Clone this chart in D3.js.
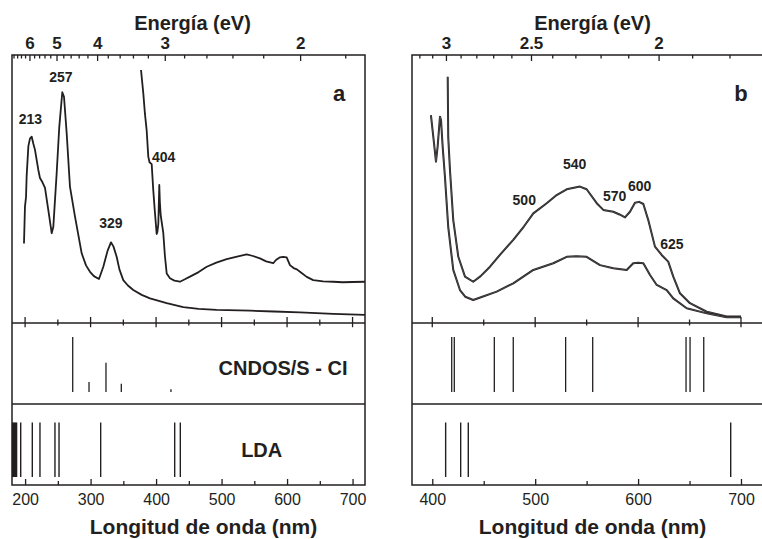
<!DOCTYPE html>
<html>
<head>
<meta charset="utf-8">
<script src="https://cdn.jsdelivr.net/npm/d3@7"></script>
<style>
  body { margin: 0; background: #fff; }
  text { font-family: "Liberation Sans", Arial, sans-serif; fill: #231f20; }
</style>
</head>
<body>
<svg id="chart" width="762" height="539"></svg>
<script>
// ---- data (wavelength nm, absorbance a.u.) ----
const specA_dilute = [[198.3,0.297],[199.8,0.434],[201.4,0.47],[202.4,0.55],[205.0,0.66],[207.5,0.689],[210.1,0.695],[212.5,0.67],[215.1,0.646],[220.2,0.571],[222.7,0.541],[226.5,0.525],[230.4,0.504],[235.4,0.422],[240.6,0.335],[243.1,0.359],[248.2,0.559],[252.2,0.732],[256.8,0.861],[259.4,0.844],[263.5,0.708],[268.5,0.509],[276.2,0.397],[286.4,0.260],[293,0.215],[299.1,0.191],[305,0.175],[312.8,0.164],[319.4,0.210],[326,0.27],[331.1,0.301],[335,0.285],[339.8,0.247],[344,0.2],[349.9,0.160],[357,0.14],[365.2,0.123],[378,0.105],[390.7,0.092],[416.2,0.074],[441.5,0.059],[465,0.053],[492.5,0.049],[543.4,0.046],[580,0.043],[619.7,0.040],[670.5,0.034],[719,0.030]];
const specA_conc = [[377.0,0.944],[380.5,0.857],[383,0.78],[385.6,0.720],[388.1,0.621],[390,0.60],[393.3,0.593],[395.7,0.496],[398,0.42],[400.9,0.332],[402,0.34],[403.4,0.369],[404.9,0.515],[405.8,0.45],[407.0,0.403],[411.0,0.336],[413.5,0.25],[416.2,0.185],[421.2,0.167],[428,0.158],[436.5,0.154],[444,0.163],[451.8,0.173],[465,0.19],[477.3,0.210],[492,0.225],[507.8,0.238],[522,0.247],[538.3,0.256],[548,0.25],[558.6,0.241],[568,0.23],[578.9,0.223],[583,0.235],[589.2,0.245],[594,0.247],[599.4,0.245],[604.4,0.216],[610,0.205],[615,0.2],[619.7,0.191],[630,0.172],[640.0,0.160],[655,0.155],[670.5,0.154],[685,0.152],[700,0.153],[719,0.154]];
const specB_upper = [[415.0,0.919],[415.5,0.695],[417.2,0.571],[420.4,0.384],[425.3,0.247],[431.8,0.173],[439.8,0.154],[447,0.175],[456.1,0.210],[467,0.26],[478.7,0.310],[489,0.36],[498.2,0.409],[511.2,0.447],[520,0.475],[530.6,0.499],[543.5,0.509],[550.0,0.499],[559.8,0.447],[566.2,0.422],[575.9,0.415],[582,0.405],[587.3,0.394],[592.1,0.415],[597.0,0.449],[601,0.452],[605.1,0.444],[609.9,0.384],[616.4,0.285],[622.9,0.254],[629.3,0.229],[634.2,0.173],[640.7,0.111],[650.4,0.074],[666.7,0.042],[686.1,0.024],[700.0,0.024]];
const specB_lower = [[398.7,0.776],[401.0,0.695],[403.6,0.602],[405.2,0.658],[407.5,0.770],[408.5,0.757],[410.1,0.658],[412.3,0.546],[415.5,0.359],[420.4,0.198],[426.9,0.123],[432,0.098],[439.8,0.086],[450,0.1],[462.6,0.117],[478.7,0.148],[498.2,0.198],[517.6,0.223],[530.6,0.247],[540,0.249],[550.0,0.247],[563.0,0.216],[575.9,0.204],[588.9,0.198],[595.3,0.223],[600,0.225],[605.1,0.223],[611.6,0.179],[618.1,0.142],[627.8,0.123],[634.2,0.092],[647.2,0.055],[666.7,0.036],[686.1,0.021],[700.0,0.021]];

// calculated transitions (nm) and relative strengths
const cndosA_nm = [272.7, 297.6, 323.5, 346.9, 422.7];
const cndosA_f  = [1.0, 0.18, 0.53, 0.15, 0.05];
const ldaA_nm   = [181, 182.5, 184, 185.5, 187, 193.3, 211, 222.7, 245.6, 251.8, 315.4, 428.4, 437];
const cndosB_nm = [418.9, 421.4, 460.3, 478.7, 529.6, 555.9, 646.6, 650.5, 663.8];
const cndosB_f  = [1, 1, 1, 1, 1, 1, 1, 1, 1];
const ldaB_nm   = [413.0, 427.6, 435.0, 690.0];

// peak labels: text, wavelength, absorbance
const peaksA = [["213", 208.2, 0.743], ["257", 254.8, 0.899], ["329", 331.1, 0.354], ["404", 411.6, 0.601]];
const peaksB = [["500", 489.4, 0.440], ["540", 538.4, 0.575], ["570", 577.3, 0.455], ["600", 601.6, 0.493], ["625", 632.9, 0.276]];

// axis ticks
const nmMajorA = [200, 300, 400, 500, 600, 700];
const nmMinorA = [250, 350, 450, 550, 650];
const nmMajorB = [400, 500, 600, 700];
const nmMinorB = [450, 550, 650];
const evMajorA = [6, 5, 4, 3, 2];
const evMinorA = [6.8, 6.6, 6.4, 6.2, 5.8, 5.6, 5.4, 5.2, 4.8, 4.6, 4.4, 4.2, 3.8, 3.6, 3.4, 3.2, 2.8, 2.6, 2.4, 2.2, 1.8];
const evMajorB = [3, 2.5, 2];
const evMinorB = [3.2, 3.1, 2.9, 2.8, 2.7, 2.6, 2.4, 2.3, 2.2, 2.1, 1.9, 1.8];

const NM_EV = 1239.84;
const INK = "#231f20";

const svg = d3.select("#chart");

// vertical layout shared by both panels
const L = { top: 55, div1: 323, div2: 404, bottom: 485 };
const ySpec = d3.scaleLinear().domain([0, 1]).range([L.div1, 55]);
const yCnd  = d3.scaleLinear().domain([0, 1]).range([392, 337]);
const yLda  = d3.scaleLinear().domain([0, 1]).range([477, 422.5]);

function drawPanel(p) {
  const x = p.x;
  const [x0, x1] = x.range();
  const g = svg.append("g");
  const fmtEv = d3.format(".2~r");

  const clipId = "clip-" + p.name;
  svg.append("clipPath").attr("id", clipId)
    .append("rect").attr("x", x0).attr("y", L.top).attr("width", x1 - x0).attr("height", L.div1 - L.top);

  // spectra
  const line = d3.line().x(d => x(d[0])).y(d => ySpec(d[1]));
  const curves = g.append("g").attr("clip-path", `url(#${clipId})`);
  p.spectra.forEach(s => {
    curves.append("path").attr("d", line(s)).attr("fill", "none")
      .attr("stroke", INK).attr("stroke-width", p.double ? 2.0 : 1.8)
      .attr("stroke-linejoin", "round");
    if (p.double) {
      curves.append("path").attr("d", line(s)).attr("fill", "none")
        .attr("stroke", "#707070").attr("stroke-width", 0.5);
    }
  });

  // stick spectra
  g.append("g").selectAll("line").data(p.cnd).join("line")
    .attr("x1", d => x(d[0])).attr("x2", d => x(d[0]))
    .attr("y1", yCnd(0)).attr("y2", d => yCnd(d[1]))
    .attr("stroke", INK).attr("stroke-width", 1.3);
  g.append("g").selectAll("line").data(p.lda).join("line")
    .attr("x1", d => x(d)).attr("x2", d => x(d))
    .attr("y1", yLda(0)).attr("y2", yLda(1))
    .attr("stroke", INK).attr("stroke-width", 1.4);

  // frame
  g.append("rect").attr("x", x0).attr("y", L.top).attr("width", x1 - x0).attr("height", L.bottom - L.top)
    .attr("fill", "none").attr("stroke", INK).attr("stroke-width", 1.5);
  [L.div1, L.div2].forEach(yy => g.append("line").attr("x1", x0).attr("x2", x1)
    .attr("y1", yy).attr("y2", yy).attr("stroke", INK).attr("stroke-width", 1.5));

  // bottom axis (ticks inward)
  const styleAxis = sel => {
    sel.select(".domain").remove();
    sel.selectAll(".tick line").attr("stroke", INK).attr("stroke-width", 1.3);
  };
  g.append("g").attr("transform", `translate(0,${L.bottom})`)
    .call(d3.axisBottom(x).tickValues(p.nmMajor).tickSize(-6).tickPadding(9).tickFormat(d3.format("d")))
    .call(styleAxis)
    .call(s => s.selectAll("text").attr("font-size", 16).attr("fill", INK).attr("font-family", "Liberation Sans, Arial, sans-serif"));
  g.append("g").attr("transform", `translate(0,${L.bottom})`)
    .call(d3.axisBottom(x).tickValues(p.nmMinor).tickSize(-4).tickFormat(""))
    .call(styleAxis);

  // crossing ticks on divider under spectrum
  const cross = p.nmMajor.map(v => [v, 6]).concat(p.nmMinor.map(v => [v, 3.5]));
  g.append("g").selectAll("line").data(cross.filter(d => x(d[0]) < x1)).join("line")
    .attr("x1", d => x(d[0])).attr("x2", d => x(d[0]))
    .attr("y1", d => L.div1 - d[1]).attr("y2", d => L.div1 + d[1] * 0.7)
    .attr("stroke", INK).attr("stroke-width", 1.3);

  // top energy axis
  g.append("g").attr("transform", `translate(0,${L.top})`)
    .call(d3.axisTop(x).tickValues(p.evMajor.map(e => NM_EV / e)).tickSize(-6).tickPadding(6)
      .tickFormat(d => fmtEv(NM_EV / d)))
    .call(styleAxis)
    .call(s => s.selectAll("text").attr("font-size", 17).attr("font-weight", "bold").attr("fill", INK)
      .attr("font-family", "Liberation Sans, Arial, sans-serif"));
  g.append("g").attr("transform", `translate(0,${L.top})`)
    .call(d3.axisTop(x).tickValues(p.evMinor.map(e => NM_EV / e)).tickSize(-3.5).tickFormat(""))
    .call(styleAxis);

  // peak labels
  g.append("g").selectAll("text").data(p.peaks).join("text")
    .attr("x", d => x(d[1])).attr("y", d => ySpec(d[2]))
    .attr("text-anchor", "middle").attr("font-size", 14).attr("font-weight", "bold")
    .text(d => d[0]);

  // titles
  g.append("text").attr("x", p.titleX).attr("y", 30).attr("text-anchor", "middle")
    .attr("font-size", 20).attr("font-weight", "bold").text("Energía (eV)");
  g.append("text").attr("x", p.titleX + p.bottomShift).attr("y", 534).attr("text-anchor", "middle")
    .attr("font-size", 21).attr("font-weight", "bold").text("Longitud de onda (nm)");
  g.append("text").attr("x", p.letterX).attr("y", 101).attr("text-anchor", "middle")
    .attr("font-size", 22).attr("font-weight", "bold").text(p.name);

  if (p.stickLabels) {
    g.append("text").attr("x", 283).attr("y", 375).attr("text-anchor", "middle")
      .attr("font-size", 20).attr("font-weight", "bold").text("CNDOS/S - CI");
    g.append("text").attr("x", 261.7).attr("y", 457).attr("text-anchor", "middle")
      .attr("font-size", 20).attr("font-weight", "bold").text("LDA");
  }
}

drawPanel({
  name: "a",
  x: d3.scaleLinear().domain([180, 719]).range([12, 365]),
  spectra: [specA_dilute, specA_conc],
  double: false,
  cnd: cndosA_nm.map((v, i) => [v, cndosA_f[i]]),
  lda: ldaA_nm,
  peaks: peaksA,
  nmMajor: nmMajorA, nmMinor: nmMinorA,
  evMajor: evMajorA, evMinor: evMinorA,
  titleX: 192.5, bottomShift: 11, letterX: 339,
  stickLabels: true
});

drawPanel({
  name: "b",
  x: d3.scaleLinear().domain([380.3, 724.3]).range([412, 766]),
  spectra: [specB_upper, specB_lower],
  double: true,
  cnd: cndosB_nm.map((v, i) => [v, cndosB_f[i]]),
  lda: ldaB_nm,
  peaks: peaksB,
  nmMajor: nmMajorB, nmMinor: nmMinorB,
  evMajor: evMajorB, evMinor: evMinorB,
  titleX: 592.5, bottomShift: 0, letterX: 741,
  stickLabels: false
});
</script>
</body>
</html>
